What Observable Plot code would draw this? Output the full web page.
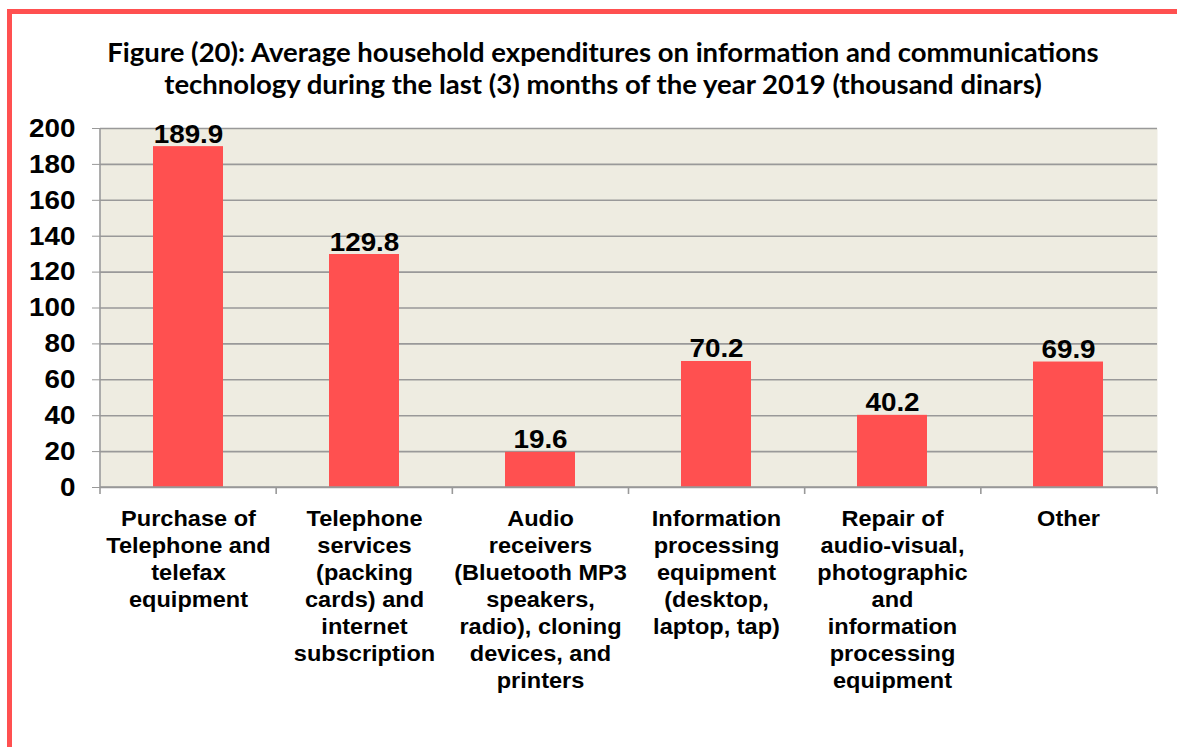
<!DOCTYPE html>
<html>
<head>
<meta charset="utf-8">
<script src="https://cdn.jsdelivr.net/npm/d3@7"></script>
<script src="https://cdn.jsdelivr.net/npm/@observablehq/plot@0.6"></script>
<style>
  html, body { margin: 0; padding: 0; background: #fff; width: 1177px; height: 747px; overflow: hidden; }
  #frame { position: absolute; left: 7px; top: 9px; width: 1400px; height: 1000px; border: 5px solid #FF5050; box-sizing: border-box; pointer-events: none; }
  #title { position: absolute; left: 0; top: 36px; width: 1206px; text-align: center; font-family: Lato, "Open Sans", sans-serif; font-weight: bold; font-size: 27.5px; line-height: 32px; color: #000; }
  #chart { position: absolute; left: 0; top: 100px; }
</style>
</head>
<body>
<div id="title">Figure (20): Average household expenditures on information and communications<br>technology during the last (3) months of the year 2019 (thousand dinars)</div>
<div id="chart"></div>
<div id="frame"></div>
<script>
const categories = [
  "Purchase of\nTelephone and\ntelefax\nequipment",
  "Telephone\nservices\n(packing\ncards) and\ninternet\nsubscription",
  "Audio\nreceivers\n(Bluetooth MP3\nspeakers,\nradio), cloning\ndevices, and\nprinters",
  "Information\nprocessing\nequipment\n(desktop,\nlaptop, tap)",
  "Repair of\naudio-visual,\nphotographic\nand\ninformation\nprocessing\nequipment",
  "Other"
];
const values = [189.9, 129.8, 19.6, 70.2, 40.2, 69.9];
const yTicks = [0, 20, 40, 60, 80, 100, 120, 140, 160, 180, 200];

const data = categories.map((c, i) => ({category: c, value: values[i]}));

const plot = Plot.plot({
  width: 1177,
  height: 647,
  marginLeft: 100,
  marginRight: 20,
  marginTop: 28,
  marginBottom: 260,
  style: {fontFamily: "'Liberation Sans', Arial, sans-serif", background: "transparent", overflow: "visible", color: "#000"},
  x: {domain: categories, paddingInner: 0.6, paddingOuter: 0.3, axis: null},
  y: {domain: [0, 200]},
  marks: [
    Plot.frame({fill: "#EEECE1", stroke: null}),
    Plot.ruleY(yTicks, {stroke: "#999", strokeWidth: 1.6}),
    Plot.barY(data, {x: "category", y: "value", fill: "#FF5050"}),
    Plot.text(data, {x: "category", y: "value", text: d => d.value.toFixed(1), lineAnchor: "bottom", dy: -4, fontSize: 26, fontWeight: "bold", fill: "#000"}),
    Plot.axisY({ticks: yTicks, tickSize: 8, tickPadding: 17, fontSize: 26, fontWeight: "bold", stroke: "#999", fill: "#000", label: null}),
    Plot.text(categories, {x: d => d, frameAnchor: "bottom", lineAnchor: "top", dy: 19, fontSize: 22, fontWeight: "bold", lineHeight: 1.23, fill: "#000"})
  ]
});

// axis lines: left vertical axis and bottom category boundary ticks, from the scales
const sx = plot.scale("x");
const sy = plot.scale("y");
const svg = d3.select(plot.tagName === "svg" ? plot : plot.querySelector("svg"));
const [r0, r1] = sx.range;
const n = sx.domain.length;
const y0 = sy.apply(0), yTop = sy.apply(200);
const g = svg.append("g").attr("stroke", "#999").attr("stroke-width", 1.6);
g.append("line").attr("x1", r0).attr("x2", r0).attr("y1", yTop).attr("y2", y0 + 7);
g.append("line").attr("x1", r0).attr("x2", r1).attr("y1", y0).attr("y2", y0);
for (let i = 1; i <= n; i++) {
  const bx = r0 + (r1 - r0) * i / n;
  g.append("line").attr("x1", bx).attr("x2", bx).attr("y1", y0).attr("y2", y0 + 7);
}
document.getElementById("chart").appendChild(plot);

// the reference's Arial text is slightly stretched horizontally: widen glyphs a little
svg.selectAll("text").each(function() {
  const tspans = this.querySelectorAll("tspan");
  const parts = tspans.length ? Array.from(tspans) : [this];
  for (const el of parts) {
    const len = el.getComputedTextLength();
    if (len > 0) {
      el.setAttribute("textLength", (len * 1.07).toFixed(1));
      el.setAttribute("lengthAdjust", "spacingAndGlyphs");
    }
  }
});
</script>
</body>
</html>
